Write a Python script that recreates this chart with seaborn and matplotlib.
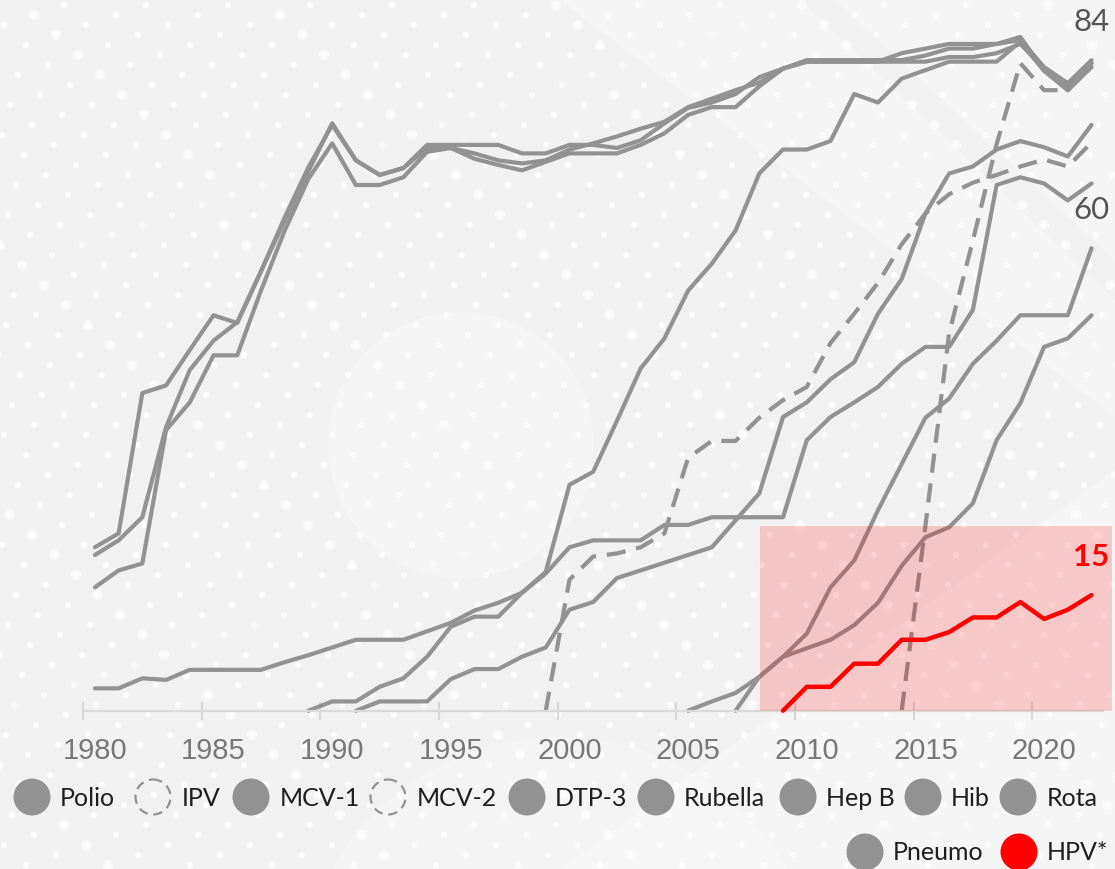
import pandas as pd
import matplotlib
matplotlib.use("Agg")
import matplotlib.pyplot as plt
from matplotlib.patches import Circle, Rectangle, Polygon
import seaborn as sns

sns.set_theme(style="white")
plt.rcParams["font.family"] = ["Lato", "DejaVu Sans"]

GRAY = "#929292"
RED = "#ff0000"

# global coverage (%), one value per year
years = list(range(1980, 2023))
polio = [21.2, 23.0, 41.2, 42.2, 46.8, 51.3, 50.3, 57.0, 63.6, 70.0,
         76.2, 71.4, 69.5, 70.4, 73.4, 73.4, 73.4, 73.4, 72.3, 72.3,
         73.4, 73.4, 73.0, 74.0, 76.2, 78.2, 78.9, 80.0, 82.2, 83.3,
         84.2, 84.2, 84.2, 84.2, 85.3, 85.9, 86.5, 86.5, 86.5, 87.4,
         83.1, 80.9, 84.0]
dtp3 = [20.2, 22.1, 25.1, 36.8, 44.2, 48.0, 50.4, 57.0, 64.0, 70.5,
        76.0, 71.4, 69.5, 70.4, 73.0, 73.0, 72.3, 71.4, 71.0, 71.4,
        72.8, 73.6, 74.5, 75.5, 76.4, 78.3, 79.4, 80.5, 81.5, 83.3,
        84.4, 84.4, 84.4, 84.4, 84.4, 85.0, 85.9, 85.9, 86.5, 87.0,
        83.5, 81.4, 84.4]
mcv1 = [16.0, 18.2, 19.1, 36.4, 40.0, 46.1, 46.1, 54.5, 62.3, 69.0,
        73.6, 68.2, 68.2, 69.2, 72.5, 73.0, 71.6, 70.8, 70.1, 71.2,
        72.3, 72.3, 72.3, 73.4, 74.9, 77.3, 78.3, 78.3, 81.0, 83.3,
        84.2, 84.2, 84.2, 84.2, 84.2, 84.2, 84.8, 84.8, 85.3, 86.5,
        83.3, 80.5, 83.5]
rubella = [2.9, 2.9, 4.2, 4.0, 5.3, 5.3, 5.3, 5.3, 6.3, 7.2,
           8.2, 9.2, 9.2, 9.2, 10.3, 11.4, 13.0, 14.0, 15.3, 17.8,
           21.2, 22.1, 22.1, 22.1, 24.1, 24.1, 25.1, 25.1, 25.1, 25.1,
           35.1, 38.1, 40.0, 42.0, 45.0, 47.2, 47.2, 52.0, 68.2, 69.2,
           68.4, 66.2, 68.4]

hepb_years = list(range(1989, 2023))
hepb = [0.0, 1.2, 1.2, 3.1, 4.2, 7.0, 10.9, 12.2, 12.2, 15.3, 18.0,
        29.3, 31.0, 37.6, 44.4, 48.3, 54.5, 58.0, 62.3, 69.7, 72.8,
        72.8, 73.9, 80.0, 78.9, 82.0, 83.1, 84.2, 84.2, 84.2, 86.8,
        83.0, 80.5, 84.0]

hib_years = list(range(1991, 2023))
hib = [0.0, 1.2, 1.2, 1.2, 4.1, 5.4, 5.4, 7.0, 8.2,
       13.1, 14.1, 17.2, 18.2, 19.2, 20.2, 21.2, 24.7, 28.2, 38.1,
       40.0, 43.0, 45.2, 51.5, 56.0, 64.5, 69.7, 70.6, 72.8, 73.9,
       73.1, 71.9, 76.0]

mcv2_years = list(range(1999, 2023))
mcv2 = [0.0, 17.0, 20.0, 20.4, 21.2, 23.0, 32.8, 35.0, 35.0, 38.0, 40.3,
        42.0, 47.7, 51.5, 55.5, 60.5, 64.5, 67.0, 68.5, 69.5, 70.6,
        71.5, 70.6, 73.7]

pneumo_years = list(range(2005, 2023))
pneumo = [0.0, 1.2, 2.3, 4.4, 7.0, 10.0, 16.0, 19.5, 26.0, 32.0,
          38.0, 40.5, 45.0, 48.0, 51.3, 51.3, 51.3, 60.0]

rota_years = list(range(2007, 2023))
rota = [0.0, 4.4, 7.0, 8.1, 9.2, 11.1, 14.0, 18.8, 22.5, 23.8,
        26.9, 35.1, 39.9, 47.2, 48.3, 51.3]

hpv_years = list(range(2009, 2023))
hpv = [0.0, 3.1, 3.1, 6.1, 6.1, 9.2, 9.2, 10.2, 12.1, 12.1,
       14.1, 11.9, 13.1, 15.0]

ipv_years = list(range(2014, 2023))
ipv = [0.0, 24.0, 49.0, 61.0, 73.5, 84.0, 80.5, 80.5, 84.0]

end_labels = {"DTP-3": "84", "Pneumo": "60", "HPV*": "15"}

series = {
    "Polio": (years, polio), "IPV": (ipv_years, ipv),
    "MCV-1": (years, mcv1), "MCV-2": (mcv2_years, mcv2),
    "DTP-3": (years, dtp3), "Rubella": (years, rubella),
    "Hep B": (hepb_years, hepb), "Hib": (hib_years, hib),
    "Rota": (rota_years, rota), "Pneumo": (pneumo_years, pneumo),
    "HPV*": (hpv_years, hpv),
}
df = pd.concat(
    [pd.DataFrame({"year": yrs, "value": vals, "vaccine": name})
     for name, (yrs, vals) in series.items()],
    ignore_index=True,
)
df["x"] = df["year"] + 0.5  # points sit in the middle of each year band
dashed = {"IPV", "MCV-2"}

W, H = 1115, 869
fig = plt.figure(figsize=(W / 100, H / 100), dpi=100)

# background layer in pixel coordinates
bg = fig.add_axes([0, 0, 1, 1], zorder=0)
bg.set_xlim(0, W)
bg.set_ylim(H, 0)
bg.axis("off")
bg.add_patch(Rectangle((0, 0), W, H, fc="#f1f1f1", ec="none"))
bg.add_patch(Polygon([(560, 0), (W, 0), (W, 416)], fc="white", alpha=0.3, ec="none"))
bg.add_patch(Polygon([(800, 0), (835, 0), (W, 260), (W, 300)], fc="#ebebeb", alpha=0.4, ec="none"))
bg.add_patch(Polygon([(560, H), (W, 470), (W, H)], fc="white", alpha=0.3, ec="none"))
bg.add_patch(Circle((461, 445), 133, fc="white", alpha=0.3, ec="none"))
bg.add_patch(Circle((560, 1000), 263, fc="white", alpha=0.25, ec="none"))
dx, dy, sz = [], [], []
for j in range(0, 90):
    for i in range(-15, 16):
        px = (i * 82 - j * 30 + 22 + 90 * 82) % (82 * 16) - 40
        py = j * 10 + 5
        if -10 < px < W + 10:
            dx.append(px)
            dy.append(py)
            sz.append(55 if (i * 7 + j * 3) % 13 == 0 else 20)
bg.scatter(dx, dy, s=sz, c="white", alpha=0.6, lw=0)

# legend
row1 = [("Polio", 32, 60), ("IPV", 153, 182), ("MCV-1", 251, 280),
        ("MCV-2", 388, 417), ("DTP-3", 527, 555), ("Rubella", 656, 684),
        ("Hep B", 798, 826), ("Hib", 923, 951), ("Rota", 1018, 1047)]
row2 = [("Pneumo", 865, 893), ("HPV*", 1019, 1047)]
for items, cy in [(row1, 797), (row2, 852)]:
    for name, cx, tx in items:
        col = RED if name == "HPV*" else GRAY
        if name in dashed:
            bg.add_patch(Circle((cx, cy), 17.5, fc="none", ec=GRAY, lw=1.6,
                                linestyle=(0, (4.2, 2.6))))
        else:
            bg.add_patch(Circle((cx, cy), 18.5, fc=col, ec="none"))
        bg.text(tx, cy + 1, name, ha="left", va="center", fontsize=18,
                color="#1e1e1e")

# main chart
x0, x1 = 83, 1103.4
ax = fig.add_axes([x0 / W, (H - 710.7) / H, (x1 - x0) / W, 710.7 / H], zorder=1)
ax.set_facecolor("none")

gray_df = df[df["vaccine"] != "HPV*"]
levels = gray_df["vaccine"].unique()
sns.lineplot(
    data=gray_df, x="x", y="value", hue="vaccine", style="vaccine",
    palette={v: GRAY for v in levels},
    dashes={v: (4.6, 2.6) if v in dashed else "" for v in levels},
    estimator=None, linewidth=3, legend=False, ax=ax, clip_on=False, zorder=2,
)
ax.add_patch(Rectangle((2008.53, 0), 14.83, 24.0, fc=RED, alpha=0.18, lw=0,
                       zorder=3, clip_on=False))
sns.lineplot(data=df[df["vaccine"] == "HPV*"], x="x", y="value", color=RED,
             linewidth=3.2, estimator=None, ax=ax, clip_on=False, zorder=4)

for name, lbl in end_labels.items():
    yrs, vals = series[name]
    ax.annotate(lbl, xy=(yrs[-1] + 0.5, vals[-1]), xytext=(0, 38),
                textcoords="offset pixels", ha="center", va="center",
                fontsize=22.5, color=RED if name == "HPV*" else "#555555",
                fontweight="bold" if name == "HPV*" else "normal")

ax.set_xlim(1980, 2023)
ax.set_ylim(0, 92.2)
ax.set_xlabel("")
ax.set_ylabel("")
ax.set_yticks([])
for s in ["left", "top", "right"]:
    ax.spines[s].set_visible(False)
ax.spines["bottom"].set_color("#dadada")
ax.spines["bottom"].set_linewidth(1.6)

tick_years = list(range(1980, 2021, 5))
ax.set_xticks(tick_years, labels=[""] * len(tick_years))
ax.set_xticks([y + 0.5 for y in tick_years], labels=[str(y) for y in tick_years], minor=True)
ax.tick_params(axis="x", which="major", bottom=True, direction="inout", length=13,
               width=1.5, color="#d6d6d6")
ax.tick_params(axis="x", which="minor", bottom=True, length=0, pad=19, labelsize=21,
               labelcolor="#777777")
for t in ax.get_xticklabels(minor=True):
    t.set_fontfamily(["Liberation Sans", "DejaVu Sans"])

fig.savefig("out.png", dpi=100)
